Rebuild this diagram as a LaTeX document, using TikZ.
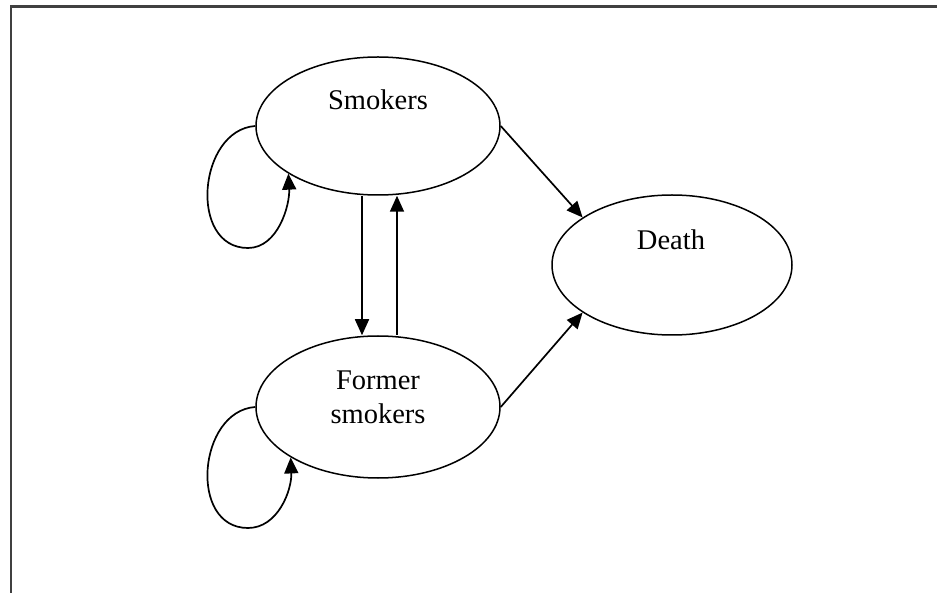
\documentclass[tikz,border=0pt]{standalone}
\usepackage{fontspec}
\setmainfont{Liberation Serif}
\usetikzlibrary{shapes.geometric,arrows.meta}
\begin{document}
\begin{tikzpicture}[x=1pt,y=-1pt,
  state/.style={draw,ellipse,line width=1.5pt,minimum width=244pt,minimum height=138pt,inner sep=0pt},
  lbl/.style={font=\fontsize{28.5}{33}\selectfont,anchor=base,align=center,inner sep=0pt},
  arr/.style={line width=1.7pt,-{Triangle[length=16pt,width=14pt]}},
  frame/.style={line width=2.2pt,draw=black!75}]
\useasboundingbox (0,0) rectangle (937,593);
\draw[frame] (11,594) -- (11,6.5) -- (938,6.5);
\node[state] (S) at (378,126) {};
\node[state,minimum height=142pt] (F) at (378,407) {};
\node[state,minimum width=240pt,minimum height=140pt] (D) at (672,265) {};
\node[lbl] (Stxt) at (378,110) {Smokers};
\node[lbl] (Ftxt) at (378,423) {Former\\smokers};
\node[lbl] (Dtxt) at (671,250) {Death};
\draw[arr] (S.east) -- (D.152);
\draw[arr] (F.east) -- (D.208);
\draw[arr] ([xshift=-16pt]S.south) -- ([xshift=-16pt]F.north);
\draw[arr] ([xshift=19pt]F.north) -- ([xshift=19pt]S.south);
\draw[arr] (S.west) .. controls (198,130) and (188,248) .. (248,248)
  .. controls (278,248) and (290,205) .. (S.208);
\draw[arr] (F.west) .. controls (198,411) and (188,528) .. (248,528)
  .. controls (278,528) and (292,490) .. (F.210);
\end{tikzpicture}
\end{document}
